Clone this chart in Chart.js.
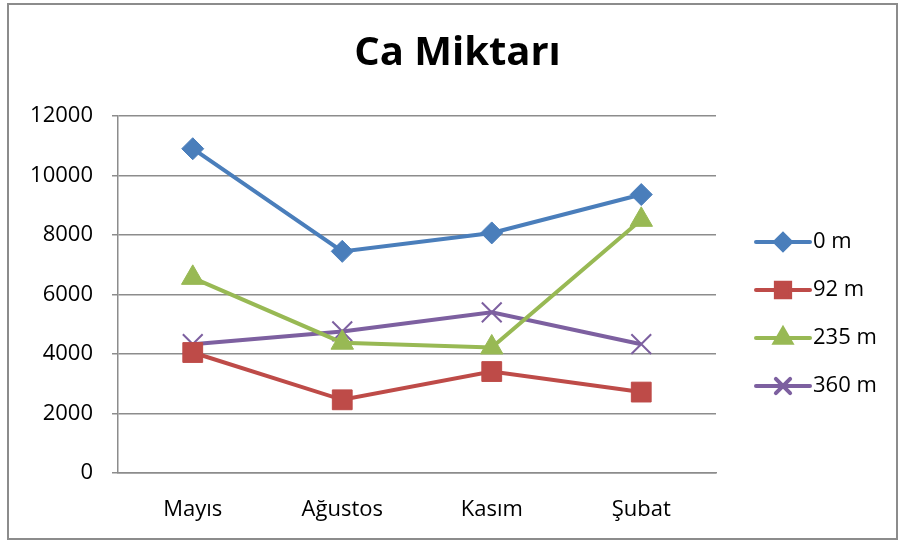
<!DOCTYPE html>
<html>
<head>
<meta charset="utf-8">
<script src="https://cdn.jsdelivr.net/npm/chart.js@4.4.1/dist/chart.umd.min.js"></script>
<style>
  body { margin: 0; background: #fff; }
  #wrap { position: relative; width: 901px; height: 542px; }
  #frame {
    position: absolute; left: 7px; top: 3px; width: 891px; height: 537px;
    box-sizing: border-box; border: 2px solid #8c8c8c; pointer-events: none;
  }
</style>
</head>
<body>
<div id="wrap">
  <canvas id="chart" width="901" height="542"></canvas>
  <div id="frame"></div>
</div>
<script>
// ═══ DATA ═══
const months = ['Mayıs', 'Ağustos', 'Kasım', 'Şubat'];
const depth0 = [10900, 7450, 8070, 9360];
const depth92 = [4050, 2460, 3410, 2720];
const depth235 = [6560, 4380, 4220, 8510];
const depth360 = [4330, 4760, 5400, 4330];
const yTicks = [0, 2000, 4000, 6000, 8000, 10000, 12000];

const FONT = '"Open Sans", sans-serif';

function series(label, data, color, style, radius, bw) {
  return {
    label: label,
    data: data,
    borderColor: color,
    backgroundColor: color,
    borderWidth: 4,
    pointStyle: style,
    pointRadius: radius,
    pointHoverRadius: radius,
    pointBorderColor: color,
    pointBackgroundColor: color,
    pointBorderWidth: bw,
    tension: 0,
  };
}

// ═══ LEGEND (line + marker, Excel style) ═══
const sideLegend = {
  id: 'sideLegend',
  afterDraw(chart) {
    const ctx = chart.ctx;
    const x0 = chart.chartArea.right + 40;
    const rows = [242, 290, 338, 386];
    ctx.save();
    chart.data.datasets.forEach((ds, i) => {
      const y = rows[i];
      ctx.strokeStyle = ds.borderColor;
      ctx.lineWidth = 4;
      ctx.lineCap = 'round';
      ctx.beginPath();
      ctx.moveTo(x0, y);
      ctx.lineTo(x0 + 54, y);
      ctx.stroke();
      ctx.fillStyle = ds.borderColor;
      Chart.helpers.drawPoint(ctx, {
        pointStyle: ds.pointStyle,
        radius: ds.pointRadius * 0.72,
        borderWidth: ds.pointBorderWidth,
        rotation: 0,
      }, x0 + 27, y);
      ctx.fillStyle = '#000';
      ctx.font = '22px ' + FONT;
      ctx.textBaseline = 'middle';
      ctx.textAlign = 'left';
      ctx.fillText(ds.label, x0 + 57, y);
    });
    ctx.restore();
  }
};

new Chart(document.getElementById('chart'), {
  type: 'line',
  data: {
    labels: months,
    datasets: [
      series('0 m', depth0, '#4a7ebb', 'rectRot', 11, 1),
      series('92 m', depth92, '#be4b48', 'rect', 14, 1),
      series('235 m', depth235, '#98b954', 'triangle', 13, 1),
      series('360 m', depth360, '#7d60a0', 'crossRot', 14, 2),
    ]
  },
  options: {
    responsive: false,
    animation: false,
    layout: { padding: { left: 14, right: 0, top: 0, bottom: 0 } },
    plugins: {
      legend: { display: false },
      tooltip: { enabled: false },
      title: {
        display: true,
        text: 'Ca Miktarı',
        color: '#000',
        font: { family: FONT, size: 40, weight: 'bold' },
        padding: { top: 30, bottom: 38 },
      },
    },
    scales: {
      x: {
        offset: true,
        grid: { display: false },
        border: { display: true, color: '#8c8c8c', width: 1.5 },
        ticks: { color: '#000', padding: 16, font: { family: FONT, size: 22 } },
        afterFit(scale) { scale.height = 69; },
      },
      y: {
        min: 0,
        max: 12000,
        afterBuildTicks(scale) { scale.ticks = yTicks.map(v => ({ value: v })); },
        grid: { color: '#8c8c8c', lineWidth: 1.5, tickLength: 6 },
        border: { display: true, color: '#8c8c8c', width: 1.5 },
        ticks: {
          color: '#000', padding: 19, font: { family: FONT, size: 22 },
          callback: v => String(v),
        },
        afterFit(scale) { scale.width = 104; },
      },
      // empty right-hand axis that only reserves the legend column
      legendSpace: {
        type: 'linear',
        position: 'right',
        display: true,
        grid: { display: false },
        border: { display: false },
        ticks: { display: false },
        afterFit(scale) { scale.width = 185; },
      }
    }
  },
  plugins: [sideLegend]
});
</script>
</body>
</html>
